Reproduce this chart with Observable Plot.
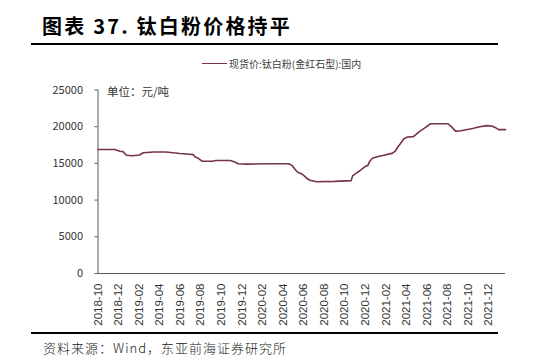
<!DOCTYPE html>
<html>
<head>
<meta charset="utf-8">
<script src="https://cdn.jsdelivr.net/npm/d3@7"></script>
<script src="https://cdn.jsdelivr.net/npm/@observablehq/plot@0.6"></script>
<style>
  html, body { margin: 0; padding: 0; background: #fff; }
  #wrap { position: relative; width: 557px; height: 361px; overflow: hidden; background: #fff; font-family: "Noto Sans CJK SC", "Liberation Sans", sans-serif; }
  #title { position: absolute; left: 42px; top: 11px; font-size: 20px; font-weight: bold; letter-spacing: 2.2px; color: #000; white-space: nowrap; }
  .rule { position: absolute; left: 31px; width: 467px; height: 2px; background: #000; }
  #legend { position: absolute; left: 202px; top: 56px; font-size: 10px; color: #404040; white-space: nowrap; display: flex; align-items: center; }
  #legend .sw { display: inline-block; width: 25px; height: 1.5px; margin-right: 2px; }
  #unit { position: absolute; left: 107px; top: 83px; font-size: 11.5px; color: #333; white-space: nowrap; }
  #chart { position: absolute; left: 0; top: 75px; }
  #source { position: absolute; left: 43px; top: 338px; font-size: 13px; letter-spacing: 1px; color: #222; white-space: nowrap; font-family: "Noto Sans CJK SC", "DejaVu Serif", serif; font-weight: 300; }
</style>
</head>
<body>
<div id="wrap">
  <div id="title">图表 37. 钛白粉价格持平</div>
  <div class="rule" style="top:43px"></div>
  <div id="legend"><span class="sw"></span><span id="legendText"></span></div>
  <div id="chart"></div>
  <div id="unit"></div>
  <div class="rule" style="top:332px"></div>
  <div id="source">资料来源：Wind，东亚前海证券研究所</div>
</div>
<script>
const seriesName = "现货价:钛白粉(金红石型):国内";
const unitLabel = "单位：元/吨";
const lineColor = "#763444";

const dates = [
  "2018-10-01","2018-11-20","2018-12-05","2018-12-14","2018-12-24","2019-01-10","2019-02-01","2019-02-12",
  "2019-03-15","2019-04-20","2019-06-01","2019-07-01","2019-07-10","2019-07-15","2019-07-25","2019-08-05",
  "2019-09-05","2019-09-15","2019-10-28","2019-11-10","2019-11-20","2019-12-15","2020-02-20","2020-04-18",
  "2020-04-28","2020-05-08","2020-05-15","2020-05-25","2020-06-03","2020-06-12","2020-06-20","2020-07-10",
  "2020-09-01","2020-10-20","2020-10-24","2020-11-05","2020-11-15","2020-11-28","2020-12-08","2020-12-14",
  "2020-12-22","2021-01-05","2021-01-25","2021-02-20","2021-02-28","2021-03-05","2021-03-15","2021-03-25",
  "2021-04-05","2021-04-22","2021-05-01","2021-05-12","2021-05-25","2021-06-12","2021-08-03","2021-08-15",
  "2021-08-25","2021-09-10","2021-10-15","2021-11-01","2021-11-25","2021-12-10","2021-12-20","2021-12-31",
  "2022-01-20"
];
const prices = [
  16900,16900,16650,16600,16100,16050,16150,16450,
  16550,16550,16350,16250,16200,15900,15700,15300,
  15300,15400,15400,15200,14950,14900,14950,14950,
  14700,14100,13800,13600,13300,12900,12700,12500,
  12550,12650,13300,13700,14000,14500,14700,15300,
  15700,15900,16100,16400,16700,17100,17700,18350,
  18600,18650,19000,19400,19800,20400,20400,19900,
  19400,19450,19750,19950,20150,20100,19900,19600,
  19600
];
const xTickLabels = ["2018-10","2018-12","2019-02","2019-04","2019-06","2019-08","2019-10","2019-12",
  "2020-02","2020-04","2020-06","2020-08","2020-10","2020-12","2021-02","2021-04","2021-06","2021-08",
  "2021-10","2021-12"];
const yTicks = [0, 5000, 10000, 15000, 20000, 25000];

const parse = d3.utcParse("%Y-%m-%d");
const parseM = d3.utcParse("%Y-%m");
const data = dates.map((d, i) => ({date: parse(d), value: prices[i]}));
const xStart = data[0].date;
const xEnd = data[data.length - 1].date;
const xTicks = xTickLabels.map(parseM);

document.getElementById("legendText").textContent = seriesName;
document.querySelector("#legend .sw").style.background = lineColor;
document.getElementById("unit").textContent = unitLabel;

const chart = Plot.plot({
  width: 557,
  height: 257,
  marginLeft: 97.5,
  marginRight: 52,
  marginTop: 14.5,
  marginBottom: 59,
  style: {fontSize: "11px", fontFamily: "'Noto Sans CJK SC', 'Liberation Sans', sans-serif", color: "#333", background: "transparent"},
  x: {type: "utc", domain: [xStart, xEnd]},
  y: {domain: [0, 25000]},
  marks: [
    Plot.axisY({ticks: yTicks, tickSize: 3, tickPadding: 12, tickFormat: d => String(d), label: null, stroke: "#595959", fill: "#333"}),
    Plot.axisX({ticks: xTicks, tickRotate: -90, tickSize: 0, tickPadding: 10, tickFormat: d3.utcFormat("%Y-%m"), label: null, fontSize: 11.5, fontFamily: "'Liberation Sans', Arial, sans-serif", fill: "#333"}),
    Plot.ruleX([xStart], {y1: 0, y2: 25000, stroke: "#595959"}),
    Plot.ruleY([0], {stroke: "#595959"}),
    Plot.line(data, {x: "date", y: "value", stroke: lineColor, strokeWidth: 1.6})
  ]
});
document.getElementById("chart").appendChild(chart);
</script>
</body>
</html>
